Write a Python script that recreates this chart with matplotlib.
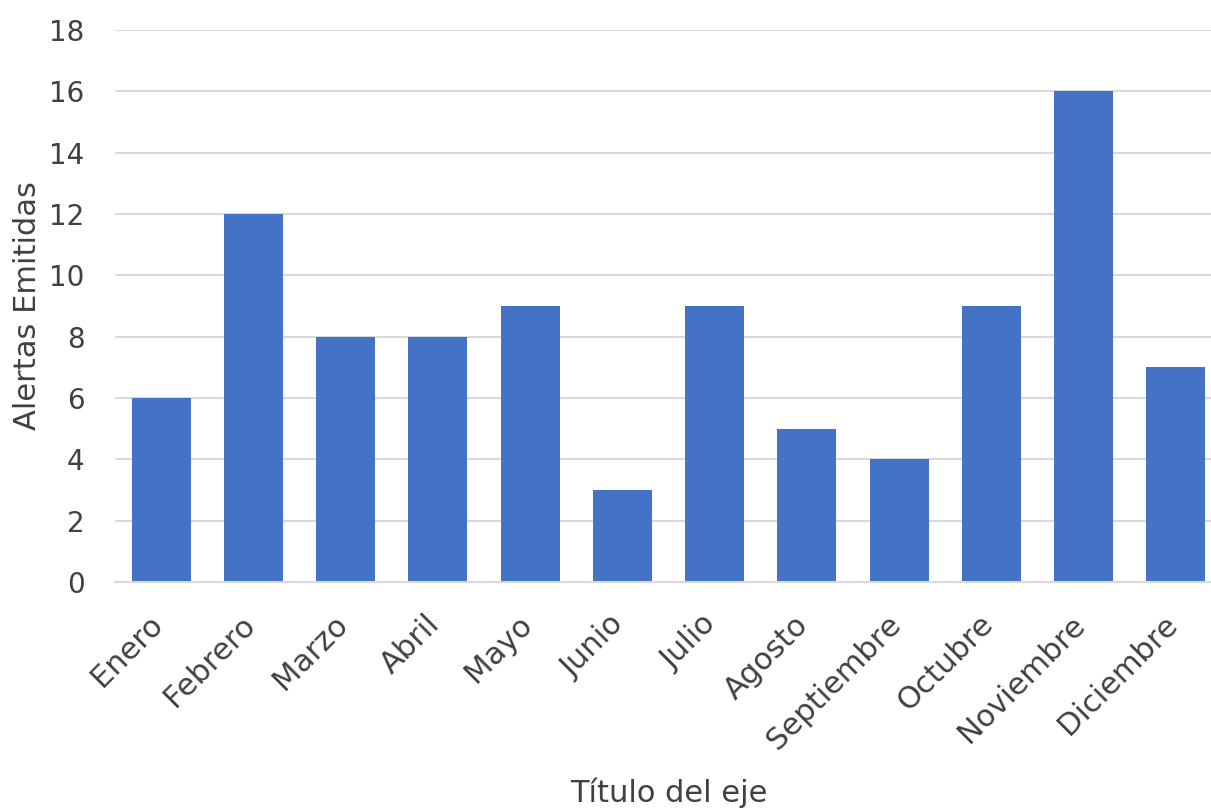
import matplotlib.pyplot as plt
import matplotlib.transforms as mtransforms
import numpy as np

meses = ['Enero', 'Febrero', 'Marzo', 'Abril', 'Mayo', 'Junio', 'Julio',
         'Agosto', 'Septiembre', 'Octubre', 'Noviembre', 'Diciembre']
alertas = [6, 12, 8, 8, 9, 3, 9, 5, 4, 9, 16, 7]
y_ticks = [0, 2, 4, 6, 8, 10, 12, 14, 16, 18]

TEXT = '#404040'

plt.rcParams['font.family'] = ['DejaVu Sans']

fig = plt.figure(figsize=(12.11, 8.09), dpi=100)
ax = fig.add_axes([115 / 1211, 1 - 582 / 809, 1107 / 1211, 552 / 809])

x = np.arange(len(meses))
ax.bar(x, alertas, width=0.64, color='#4472C4', zorder=3)

ax.set_xlim(-0.5, len(meses) - 0.5)
ax.set_ylim(0, 18)
ax.set_yticks(y_ticks)
ax.yaxis.grid(True, color='#D9D9D9', linewidth=1.5, zorder=0)
ax.set_xticks(x)

for s in ['top', 'right', 'left']:
    ax.spines[s].set_visible(False)
ax.spines['bottom'].set_color('#D9D9D9')
ax.spines['bottom'].set_linewidth(1.5)
ax.spines['bottom'].set_zorder(4)

ax.tick_params(axis='both', length=0, labelcolor=TEXT)
ax.tick_params(axis='y', pad=22, labelsize=20)
ax.tick_params(axis='x', pad=20)

ax.set_xticklabels(meses, rotation=45, ha='right', rotation_mode='anchor',
                   fontsize=22)

# nudge the rotated month labels a little to the left, like the original
shift = mtransforms.ScaledTranslation(-13 / 100, 0, fig.dpi_scale_trans)
for lbl in ax.get_xticklabels():
    lbl.set_transform(lbl.get_transform() + shift)

ax.set_ylabel('Alertas Emitidas', fontsize=22, color=TEXT)
ax.yaxis.set_label_coords((28 - 115) / 1107, 0.5)
ax.set_xlabel('Título del eje', fontsize=22, color=TEXT)
ax.xaxis.set_label_coords(0.5, -(793 - 582) / 552, transform=ax.transAxes)
ax.xaxis.label.set_va('center')
ax.yaxis.label.set_va('center')

fig.savefig('out.png', dpi=100)
